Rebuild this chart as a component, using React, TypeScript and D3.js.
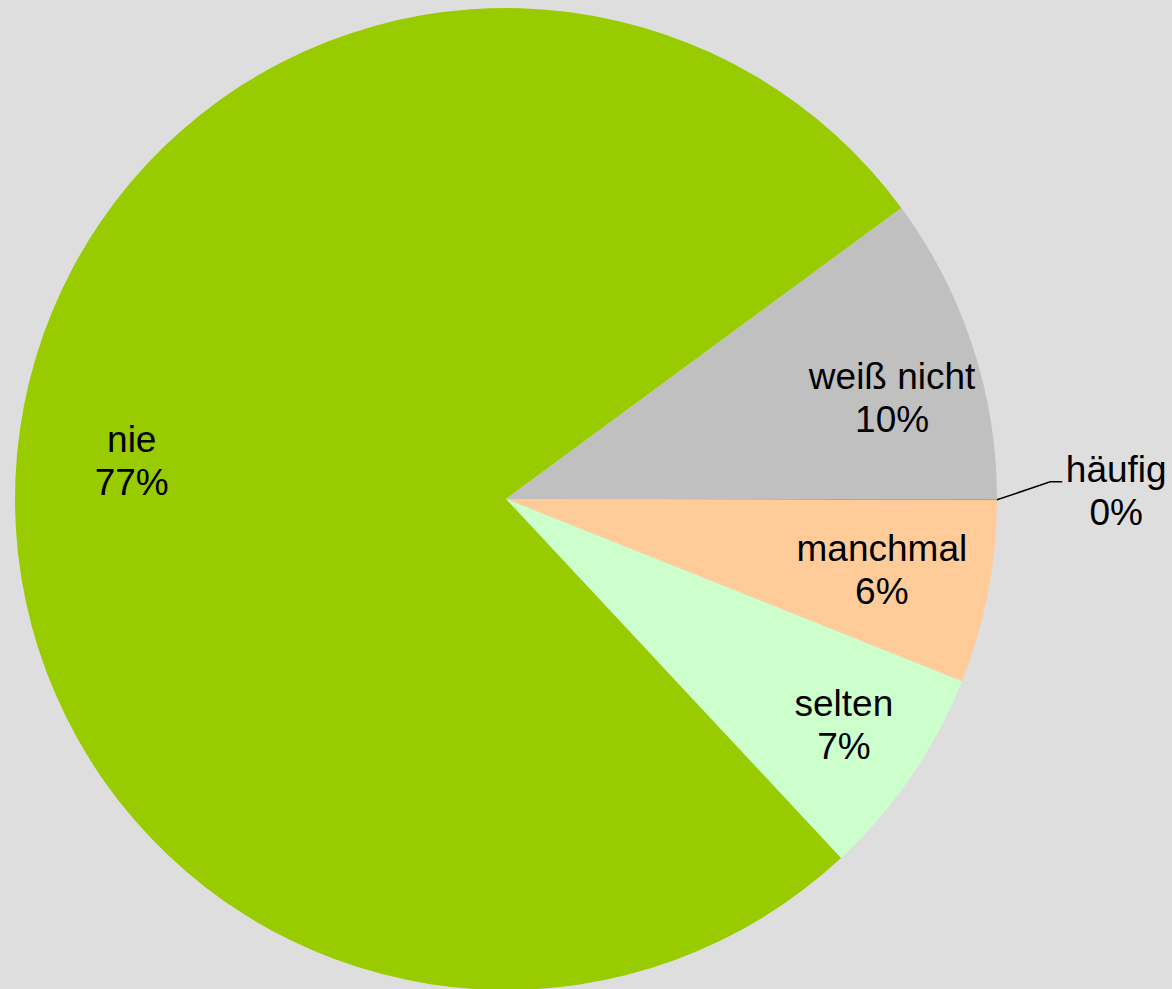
import React from "react";
import * as d3 from "d3";

const categories = ["häufig", "manchmal", "selten", "nie", "weiß nicht"];
const values = [0.05, 6.0, 7.0, 76.85, 10.1];
const percentLabels = ["0%", "6%", "7%", "77%", "10%"];
const colors = ["#ff9900", "#ffcc99", "#ccffcc", "#99cc00", "#c0c0c0"];
// label layout: radius ratio and angle shift (deg) from slice mid; outside = leader-line label
const labelLayout = [
  { ratio: 1.109, shift: -1.9, outside: true },
  { ratio: 0.784, shift: 1.5, outside: false },
  { ratio: 0.842, shift: 0.8, outside: false },
  { ratio: 0.764, shift: -1.4, outside: false },
  { ratio: 0.807, shift: 5.2, outside: false },
];

const W = 1172;
const H = 989;
const CX = 506;
const CY = 499;
const R = 491;
const FONT = "'Liberation Sans', Arial, sans-serif";
const FS = 37;
const LINE = 43;

export default function App() {
  const data = categories.map((c, i) => ({ c, v: values[i], i }));
  const pie = d3
    .pie<any>()
    .value((d) => d.v)
    .sort(null)
    .startAngle(Math.PI / 2)
    .endAngle(Math.PI / 2 + 2 * Math.PI);
  const arcs = pie(data);
  const arcGen = d3.arc<any>().innerRadius(0).outerRadius(R);
  const polar = (a: number, r: number) => [Math.sin(a) * r, -Math.cos(a) * r];

  return (
    <svg
      width={W}
      height={H}
      style={{ position: "absolute", left: 0, top: 0, background: "#dedede" }}
    >
      <rect x={0} y={0} width={W} height={H} fill="#dedede" />
      <g transform={`translate(${CX},${CY})`}>
        {arcs.map((a, i) => (
          <path key={i} d={arcGen(a) as string} fill={colors[i]} />
        ))}
        {arcs.map((a, i) => {
          const mid = (a.startAngle + a.endAngle) / 2;
          const L = labelLayout[i];
          const ang = mid + (L.shift * Math.PI) / 180;
          const [x, y] = polar(ang, R * L.ratio);
          if (L.outside) {
            const [sx, sy] = polar(mid, R);
            const ex = x + 12;
            return (
              <g key={"l" + i}>
                <polyline
                  points={`${sx},${sy} ${x},${y} ${ex},${y}`}
                  fill="none"
                  stroke="#000"
                  strokeWidth={1.5}
                />
                <text
                  x={ex + 4 + 50}
                  y={y}
                  textAnchor="middle"
                  fontFamily={FONT}
                  fontSize={FS}
                  fill="#000"
                >
                  <tspan x={ex + 4 + 50} y={y}>{categories[i]}</tspan>
                  <tspan x={ex + 4 + 50} y={y + LINE}>{percentLabels[i]}</tspan>
                </text>
              </g>
            );
          }
          return (
            <text
              key={"l" + i}
              textAnchor="middle"
              fontFamily={FONT}
              fontSize={FS}
              fill="#000"
            >
              <tspan x={x} y={y - LINE / 2}>{categories[i]}</tspan>
              <tspan x={x} y={y + LINE / 2}>{percentLabels[i]}</tspan>
            </text>
          );
        })}
      </g>
    </svg>
  );
}
